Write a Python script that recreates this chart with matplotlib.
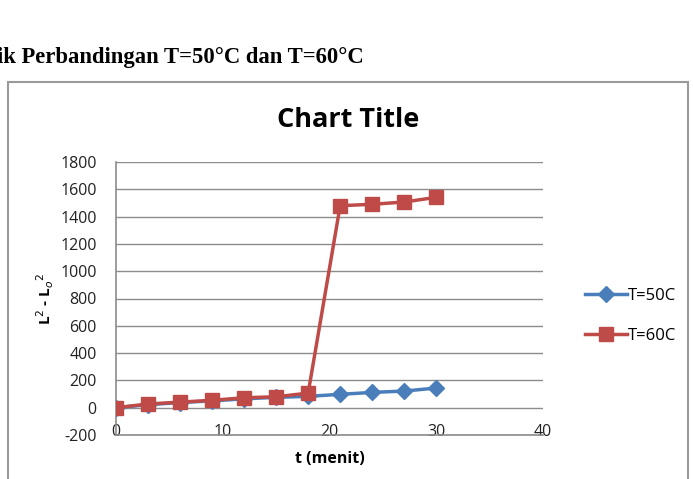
import matplotlib.pyplot as plt
from matplotlib.patches import Rectangle

plt.rcParams['axes.unicode_minus'] = False

# data
t_menit = [0, 3, 6, 9, 12, 15, 18, 21, 24, 27, 30]
t50 = [0, 22, 38, 50, 65, 76, 83, 98, 112, 122, 144]
t60 = [0, 27, 41, 54, 73, 80, 107, 1480, 1490, 1507, 1541]
y_ticks = [-200, 0, 200, 400, 600, 800, 1000, 1200, 1400, 1600, 1800]
x_ticks = [0, 10, 20, 30, 40]

fig = plt.figure(figsize=(6.93, 4.79), dpi=100)

# heading above the chart (cut off on the left in the original)
fig.text(-0.005, 1 - 63 / 479, 'ik Perbandingan T=50°C dan T=60°C',
         family='Liberation Serif', weight='bold', fontsize=16.3, ha='left', va='baseline')

# chart frame
fig.patches.append(Rectangle((8 / 693, -0.05), 680 / 693, 1.05 - 82 / 479,
                             transform=fig.transFigure, fill=False,
                             edgecolor='#9a9a9a', linewidth=1.5))

fig.text(348 / 693, 1 - 120 / 479, 'Chart Title', family='Open Sans', weight='bold',
         fontsize=19.5, ha='center', va='center')

ax = fig.add_axes([116 / 693, 1 - 435 / 479, 427 / 693, 273 / 479])
ax.set_xlim(0, 40)
ax.set_ylim(-200, 1800)
ax.set_yticks(y_ticks)
ax.set_xticks(x_ticks)
ax.grid(axis='y', color='#8c8c8c', linewidth=1)
ax.set_axisbelow(True)
for s in ['top', 'right']:
    ax.spines[s].set_visible(False)
for s in ['left', 'bottom']:
    ax.spines[s].set_color('#8c8c8c')
    ax.spines[s].set_linewidth(1.2)
ax.tick_params(length=0, labelsize=11.5, colors='#222222')
ax.tick_params(axis='x', pad=-8)
ax.tick_params(axis='y', pad=14)
for lab in ax.get_xticklabels() + ax.get_yticklabels():
    lab.set_family('Open Sans')

ax.plot(t_menit, t50, color='#4a7ebb', linewidth=2.5, marker='D', markersize=8,
        label='T=50C', zorder=3)
ax.plot(t_menit, t60, color='#be4b48', linewidth=2.5, marker='s', markersize=10.5,
        label='T=60C', zorder=4)

ax.set_xlabel('t (menit)', family='Open Sans', weight='bold', fontsize=11.5, labelpad=8)
ax.set_ylabel('L$^2$ - L$_o$$^2$', family='Open Sans', weight='bold', fontsize=11, labelpad=3)

leg = fig.legend(loc='center left', bbox_to_anchor=(570 / 693, 1 - 316 / 479), frameon=False,
                 prop={'family': 'Open Sans', 'size': 12}, handlelength=2.5,
                 labelspacing=1.45, handletextpad=0.1)

fig.savefig('out.png', dpi=100)
